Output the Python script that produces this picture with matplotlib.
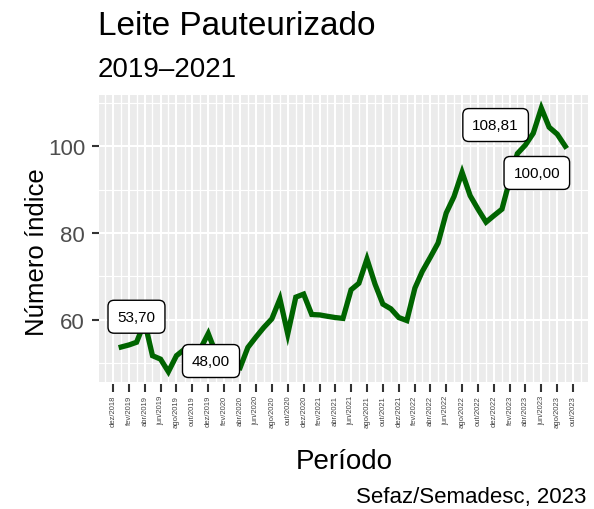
import matplotlib
matplotlib.use("Agg")
import matplotlib.pyplot as plt
import matplotlib.dates as mdates
import pandas as pd

plt.rcParams['font.family'] = ['Liberation Sans', 'DejaVu Sans']

# ---------------- data ----------------
meses = ['jan', 'fev', 'mar', 'abr', 'mai', 'jun', 'jul', 'ago', 'set', 'out', 'nov', 'dez']
periodo = pd.date_range('2019-01-01', '2023-09-01', freq='MS')
indice = [
    # 2019
    53.70, 54.2, 54.8, 59.5, 51.7, 50.9, 48.00, 51.7, 53.2, 53.8, 53.3, 56.8,
    # 2020
    52.0, 50.5, 49.3, 48.9, 53.6, 56.0, 58.2, 60.2, 64.8, 56.7, 65.2, 65.9,
    # 2021
    61.2, 61.1, 60.8, 60.5, 60.3, 66.9, 68.4, 74.0, 68.2, 63.6, 62.5, 60.5,
    # 2022
    59.8, 67.3, 71.1, 74.4, 77.7, 84.6, 88.4, 94.0, 88.6, 85.5, 82.5, 84.0,
    # 2023
    85.5, 92.5, 98.3, 100.3, 103.0, 108.81, 104.4, 102.8, 100.00,
]
tick_dates = pd.date_range('2018-12-01', '2023-10-01', freq='2MS')
tick_labels = [f"{meses[d.month - 1]}/{d.year}" for d in tick_dates]
minor_dates = pd.date_range('2018-11-01', '2023-11-01', freq='2MS')
y_major = [60, 80, 100]
y_minor = [50, 70, 90, 110]

titulo = "Leite Pauteurizado"
subtitulo = "2019\u20132021"
fonte = "Sefaz/Semadesc, 2023"

# labelled points: (index, text, offset in points)
rotulos = [
    (0, "53,70", (11, 21.8)),
    (int(pd.Series(indice).idxmin()), "48,00", (30.7, 7.7)),
    (int(pd.Series(indice).idxmax()), "108,81", (-32.9, -12.2)),
    (len(indice) - 1, "100,00", (-20.5, -19.2)),
]

# ---------------- figure ----------------
fig = plt.figure(figsize=(5.94, 5.10), dpi=100)
ax = fig.add_axes([99 / 594, 1 - 383.3 / 510, 488.5 / 594, (383.3 - 96) / 510])
ax.set_facecolor('#EBEBEB')
for s in ax.spines.values():
    s.set_visible(False)
ax.spines['bottom'].set_position(('outward', 1.5))

xnum = mdates.date2num(periodo)
rng = xnum[-1] - xnum[0]
ax.set_xlim(xnum[0] - 0.05 * rng, xnum[-1] + 0.05 * rng)
ax.set_ylim(45.56, 111.83)

ax.plot(periodo, indice, color='#006400', lw=3.8, solid_joinstyle='miter', zorder=3)

ax.set_xticks(mdates.date2num(tick_dates))
ax.set_xticklabels(tick_labels, rotation=90, fontsize=5.5, color='#444444')
ax.set_xticks(mdates.date2num(minor_dates), minor=True)
ax.set_yticks(y_major)
ax.set_yticklabels([str(v) for v in y_major], fontsize=16, color='#4D4D4D')
ax.set_yticks(y_minor, minor=True)

ax.tick_params(axis='x', which='major', length=5.5, width=1.5, color='#333333', pad=2)
ax.tick_params(axis='y', which='major', length=5, width=1.5, color='#333333', pad=5)
ax.tick_params(which='minor', length=0)

ax.grid(axis='x', which='major', color='white', lw=1.5)
ax.grid(axis='x', which='minor', color='white', lw=1.0)
ax.grid(axis='y', which='major', color='white', lw=1.5)
ax.grid(axis='y', which='minor', color='white', lw=0.8)
ax.set_axisbelow(True)

for i, txt, off in rotulos:
    ax.annotate(txt, xy=(periodo[i], indice[i]), xytext=off, textcoords='offset points',
                ha='center', va='center', fontsize=11, color='black', zorder=5,
                bbox=dict(boxstyle='round,pad=0.62,rounding_size=0.4', fc='white',
                          ec='black', lw=1.0))

fig.text(98 / 594, 1 - 35 / 510, titulo, fontsize=24, ha='left', va='baseline')
fig.text(98 / 594, 1 - 77.3 / 510, subtitulo, fontsize=20, ha='left', va='baseline')
fig.text(344 / 594, 1 - 469 / 510, "Período", fontsize=20, ha='center', va='baseline')
fig.text(44 / 594, 1 - 252 / 510, "Número índice", fontsize=18.5, ha='center', va='baseline',
         rotation=90, rotation_mode='anchor')
fig.text(586 / 594, 1 - 503 / 510, fonte, fontsize=16, ha='right', va='baseline')

fig.savefig('out.png', dpi=100)
